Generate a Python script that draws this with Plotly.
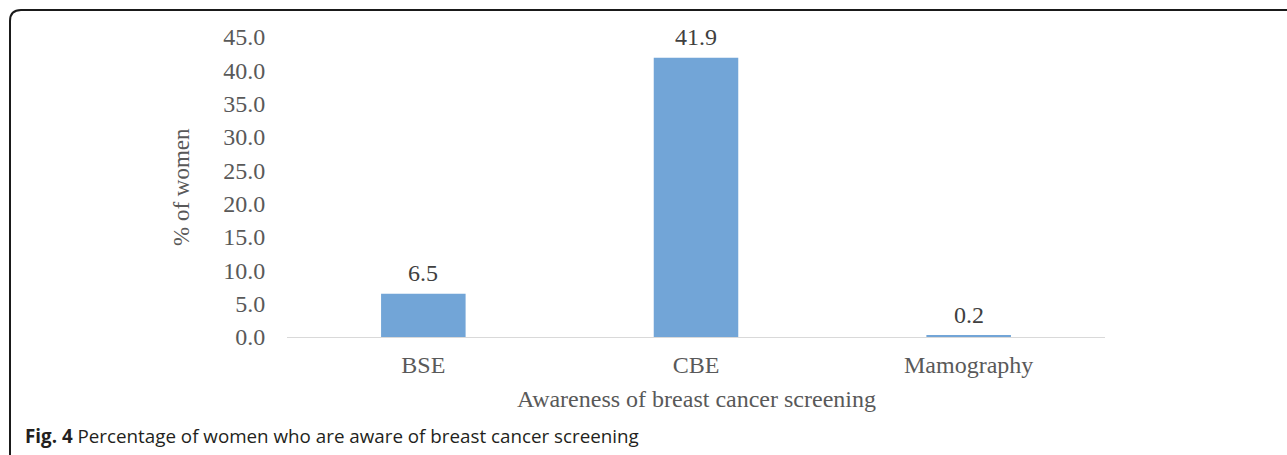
import plotly.graph_objects as go

# Awareness of breast cancer screening methods (% of women)
categories = ["BSE", "CBE", "Mamography"]
percent_aware = [6.5, 41.9, 0.2]
y_ticks = [0, 5, 10, 15, 20, 25, 30, 35, 40, 45]

W, H = 1287, 455
L, R, T, B = 287, 182, 37, 118
PW, PH = W - L - R, H - T - B


def px_x(x):
    return (x - L) / PW


def px_y(y):
    return (H - B - y) / PH


SERIF = "Liberation Serif, Times New Roman, serif"
GREY = "#595959"
FS = 24

fig = go.Figure(
    go.Bar(
        x=categories,
        y=percent_aware,
        marker=dict(color="#72a5d7", line=dict(width=0)),
        width=0.31,
    )
)

fig.update_layout(
    width=W,
    height=H,
    margin=dict(l=L, r=R, t=T, b=B, autoexpand=False),
    paper_bgcolor="white",
    plot_bgcolor="white",
    showlegend=False,
    font=dict(family=SERIF, size=FS, color=GREY),
)

fig.update_xaxes(
    showgrid=False,
    showline=True,
    linecolor="#d9d9d9",
    linewidth=1,
    ticks="outside",
    ticklen=6,
    tickcolor="rgba(0,0,0,0)",
    tickfont=dict(family=SERIF, size=FS, color=GREY),
    zeroline=False,
)
fig.update_yaxes(
    range=[0, 45],
    tickvals=y_ticks,
    tickformat=".1f",
    showgrid=False,
    showline=False,
    zeroline=False,
    ticks="outside",
    ticklen=16,
    tickcolor="rgba(0,0,0,0)",
    tickfont=dict(family=SERIF, size=FS, color=GREY),
)

# Value labels above each bar
annotations = [
    dict(
        text=f"{v:.1f}", x=c, y=v, xref="x", yref="y",
        xanchor="center", yanchor="middle", yshift=21,
        showarrow=False,
        font=dict(family=SERIF, size=FS, color="#404040"),
    )
    for c, v in zip(categories, percent_aware)
]

annotations += [
    dict(
        text="% of women",
        xref="paper", yref="paper",
        x=px_x(181), y=0.5,
        xanchor="center", yanchor="middle",
        textangle=-90, showarrow=False,
        font=dict(family=SERIF, size=23, color=GREY),
    ),
    dict(
        text="Awareness of breast cancer screening",
        xref="paper", yref="paper",
        x=0.5, y=px_y(399),
        xanchor="center", yanchor="middle",
        showarrow=False,
        font=dict(family=SERIF, size=FS, color=GREY),
    ),
    dict(
        text="<b>Fig. 4</b> Percentage of women who are aware of breast cancer screening",
        xref="paper", yref="paper",
        x=px_x(23), y=px_y(436),
        xanchor="left", yanchor="middle",
        showarrow=False,
        font=dict(family="Open Sans, sans-serif", size=18.8, color="#231f20"),
    ),
]
fig.update_layout(annotations=annotations)

# Frame with rounded left corners, open past the right and bottom edges
x0, x1 = px_x(10), px_x(1300)
y_top, y_bot = px_y(10), px_y(466)
rx, ry = 11 / PW, 11 / PH
path = (
    f"M {x1},{y_top} L {x0 + rx},{y_top} "
    f"Q {x0},{y_top} {x0},{y_top - ry} "
    f"L {x0},{y_bot + ry} "
    f"Q {x0},{y_bot} {x0 + rx},{y_bot} "
    f"L {x1},{y_bot}"
)
fig.add_shape(
    type="path", path=path, xref="paper", yref="paper",
    line=dict(color="#1a1a1a", width=2), layer="above",
)

fig.write_html("out.html")
